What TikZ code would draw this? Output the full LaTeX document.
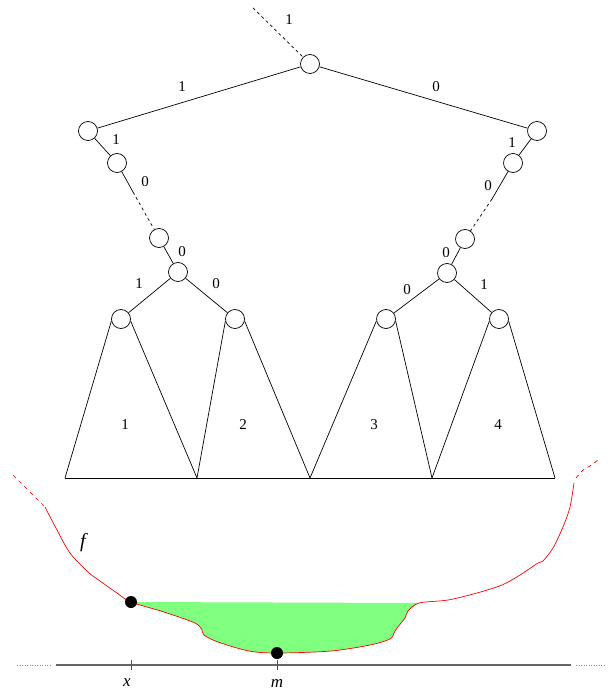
\documentclass[tikz,border=0pt]{standalone}
\usepackage{fontspec}
\setmainfont{Liberation Serif}
\definecolor{lightgreen}{RGB}{128,255,128}
\begin{document}
\begin{tikzpicture}[x=1pt,y=-1pt,
  vtx/.style={circle,draw,fill=white,minimum size=19pt,inner sep=0pt,line width=0.7pt},
  lbl/.style={font=\fontsize{15}{17}\selectfont,inner sep=0pt},
  ilbl/.style={font=\fontsize{17}{19}\selectfont\itshape,inner sep=0pt},
  edge/.style={line width=0.7pt},
  dedge/.style={line width=0.7pt,dash pattern=on 3pt off 3pt},
  fcurve/.style={red,line width=0.7pt},
  dot/.style={circle,fill=black,minimum size=12pt,inner sep=0pt},
  axis/.style={line width=1.5pt,black!60},
  axdot/.style={line width=1pt,black!45,dash pattern=on 1pt off 1.5pt}]
\useasboundingbox (0,0) rectangle (608,692);

% tree nodes
\node[vtx] (root) at (310,64) {};
\node[vtx] (L1) at (88,131) {};
\node[vtx] (L2) at (117,163) {};
\node[vtx] (L3) at (159,238) {};
\node[vtx] (L4) at (178,272) {};
\node[vtx] (T1) at (121,319) {};
\node[vtx] (T2) at (235,319) {};
\node[vtx] (R1) at (537,131) {};
\node[vtx] (R2) at (513,163) {};
\node[vtx] (R3) at (465,239) {};
\node[vtx] (R4) at (447,273) {};
\node[vtx] (T3) at (386,319) {};
\node[vtx] (T4) at (499,319) {};

\coordinate (top) at (253,8);
\coordinate (lmid) at (133,192);
\coordinate (rmid) at (492,199);
\coordinate (b0) at (65,478);
\coordinate (b1) at (197,478);
\coordinate (b2) at (310,478);
\coordinate (b3) at (432,478);
\coordinate (b4) at (555,478);

% edges
\draw[dedge] (top) -- (root);
\draw[edge] (root) -- (L1);
\draw[edge] (root) -- (R1);
\draw[edge] (L1) -- (L2);
\draw[edge] (L2) -- (lmid);
\draw[dedge] (lmid) -- (L3);
\draw[edge] (L3) -- (L4);
\draw[edge] (L4) -- (T1);
\draw[edge] (L4) -- (T2);
\draw[edge] (R1) -- (R2);
\draw[edge] (R2) -- (rmid);
\draw[dedge] (rmid) -- (R3);
\draw[edge] (R3) -- (R4);
\draw[edge] (R4) -- (T3);
\draw[edge] (R4) -- (T4);

% subtrees
\draw[edge] (T1.192) -- (b0);
\draw[edge] (T1.-12) -- (b1);
\draw[edge] (T2.192) -- (b1);
\draw[edge] (T2.-12) -- (b2);
\draw[edge] (T3.192) -- (b2);
\draw[edge] (T3.-12) -- (b3);
\draw[edge] (T4.192) -- (b3);
\draw[edge] (T4.-12) -- (b4);
\draw[edge] (b0) -- (b4);

% labels
\node[lbl] (l0) at (289,20) {1};
\node[lbl] (l1) at (182,87) {1};
\node[lbl] (l2) at (436,87) {0};
\node[lbl] (l3) at (116,140) {1};
\node[lbl] (l4) at (145,182) {0};
\node[lbl] (l5) at (182,252) {0};
\node[lbl] (l6) at (139,284) {1};
\node[lbl] (l7) at (216,284) {0};
\node[lbl] (l8) at (512,143) {1};
\node[lbl] (l9) at (488,186) {0};
\node[lbl] (l10) at (446,253) {0};
\node[lbl] (l11) at (407,290) {0};
\node[lbl] (l12) at (484,285) {1};
\node[lbl] (s1) at (125,425) {1};
\node[lbl] (s2) at (243,425) {2};
\node[lbl] (s3) at (374,425) {3};
\node[lbl] (s4) at (498,425) {4};

% green region
\fill[lightgreen] plot[smooth,tension=0.5] coordinates {(131,602) (164,612) (195,623) (202,630) (204,635) (218,642) (249,651) (278,653) (331,651) (370,645) (390,639) (394,633) (397,628) (405,618) (408,611) (419,603)} -- cycle;

% function curve
\draw[fcurve,dash pattern=on 4pt off 4pt] (13,475) -- (45,507);
\draw[fcurve] plot[smooth,tension=0.5] coordinates {(45,507) (57,530) (70,553) (88,572) (100,581) (117,593) (131,602) (164,612) (195,623) (202,630) (204,635) (218,642) (249,651) (278,653) (331,651) (370,645) (390,639) (394,633) (397,628) (405,618) (408,611) (419,603) (448,600) (477,593) (502,585) (520,575) (538,563) (543,561) (553,548) (563,527) (570,507) (574,483)};
\draw[fcurve,dash pattern=on 4pt off 4pt] plot[smooth] coordinates {(576,478) (583,470) (590,466) (598,460)};

\node[font=\fontsize{20}{22}\selectfont\itshape,inner sep=0pt] (fl) at (83,543) {f};

% axis
\coordinate (a0) at (17,665);
\coordinate (a1) at (52,665);
\coordinate (a2) at (56,665);
\coordinate (a3) at (571,665);
\coordinate (a4) at (576,665);
\coordinate (a5) at (606,665);
\draw[axdot] (a0) -- (a1);
\draw[axis] (a2) -- (a3);
\draw[axdot] (a4) -- (a5);
\coordinate (tx) at (131,665);
\coordinate (tm) at (277,665);
\draw[line width=0.8pt,black!70] ([yshift=-5pt]tx) -- ([yshift=5pt]tx);
\draw[line width=0.8pt,black!70] ([yshift=-5pt]tm) -- ([yshift=5pt]tm);
\node[ilbl] (xl) at (127,683) {x};
\node[ilbl] (ml) at (277,683) {m};

\node[dot] (px) at (131,602) {};
\node[dot] (pm) at (277,653) {};
\end{tikzpicture}
\end{document}
